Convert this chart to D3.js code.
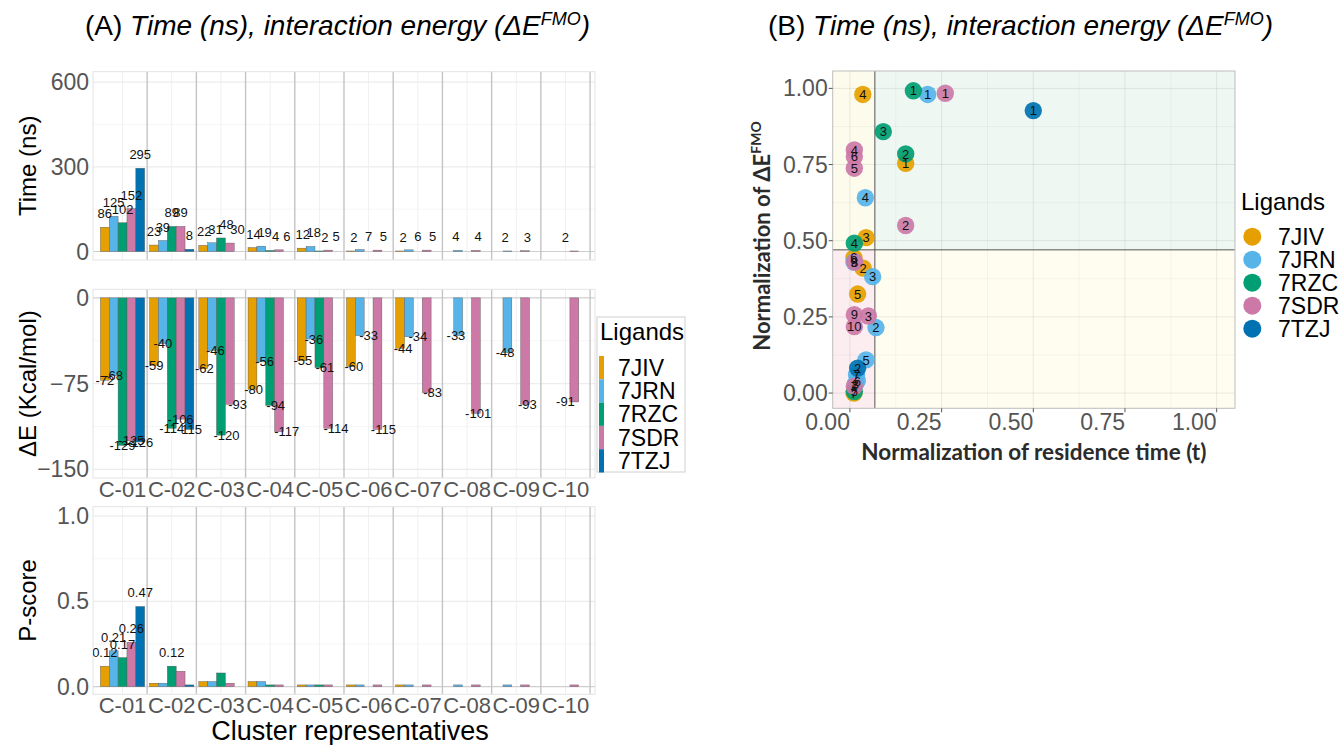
<!DOCTYPE html>
<html>
<head>
<meta charset="utf-8">
<script src="https://cdn.jsdelivr.net/npm/d3@7"></script>
<style>
  body { margin: 0; background: #fff; }
  svg { display: block; }
</style>
</head>
<body>
<script>
// ---- data ----
var clusters = ['C-01', 'C-02', 'C-03', 'C-04', 'C-05', 'C-06', 'C-07', 'C-08', 'C-09', 'C-10'];
var ligands = ['7JIV', '7JRN', '7RZC', '7SDR', '7TZJ'];
var colors = ['#E69F00', '#56B4E9', '#009E73', '#CC79A7', '#0072B2'];

// rows follow ligands, columns follow clusters (null = no bar)
var timeNs = [
  [86, 23, 22, 14, 12, 2, 2, null, null, null],
  [125, 39, 31, 19, 18, 7, 6, 4, 2, null],
  [102, 89, 48, 4, 2, null, null, null, null, null],
  [152, 89, 30, 6, 5, 5, 5, 4, 3, 2],
  [295, 8, null, null, null, null, null, null, null, null]
];
var energy = [
  [-72, -59, -62, -80, -55, -60, -44, null, null, null],
  [-68, -40, -46, -56, -36, -33, -34, -33, -48, null],
  [-129, -114, -120, -94, -61, null, null, null, null, null],
  [-125, -106, -93, -117, -114, -115, -83, -101, -93, -91],
  [-126, -115, null, null, null, null, null, null, null, null]
];
var pscore = [
  [0.12, 0.02, 0.03, 0.03, 0.01, 0.01, 0.01, null, null, null],
  [0.21, 0.02, 0.03, 0.03, 0.01, 0.01, 0.01, 0.01, 0.01, null],
  [0.17, 0.12, 0.08, 0.01, 0.01, null, null, null, null, null],
  [0.26, 0.09, 0.02, 0.01, 0.01, 0.01, 0.01, 0.01, 0.01, 0.01],
  [0.47, 0.01, null, null, null, null, null, null, null, null]
];
var timeTicks = [0, 300, 600];
var energyTicks = [0, -75, -150];
var pTicks = [0, 0.5, 1];

// panel B: normalised residence time (x) and normalised dE (y)
var normTime = [
  [0.152, 0.036, 0.044, 0.035, 0.021, 0.011, 0.011, null, null, null],
  [0.212, 0.071, 0.062, 0.042, 0.044, 0.020, 0.018, 0.015, 0.011, null],
  [0.173, 0.152, 0.091, 0.012, 0.012, null, null, null, null, null],
  [0.260, 0.152, 0.050, 0.012, 0.012, 0.012, 0.012, 0.013, 0.012, 0.012],
  [0.500, 0.021, null, null, null, null, null, null, null, null]
];
var normEnergy = [
  [0.754, 0.410, 0.510, 0.980, 0.325, 0.444, 0.000, null, null, null],
  [0.980, 0.215, 0.382, 0.641, 0.109, 0.040, 0.060, 0.030, 0.430, null],
  [0.992, 0.785, 0.858, 0.492, 0.005, null, null, null, null, null],
  [0.984, 0.550, 0.253, 0.798, 0.738, 0.776, 0.022, 0.430, 0.257, 0.218],
  [0.927, 0.082, null, null, null, null, null, null, null, null]
];
var normTicks = [0, 0.25, 0.5, 0.75, 1];
var timeCut = 0.068;
var energyCut = 0.47;

var W = 1343, H = 745;
var sans = 'Liberation Sans, Arial, Helvetica, sans-serif';
var svg = d3.select('body').append('svg')
  .attr('width', W).attr('height', H)
  .style('font-family', sans);

// ---- titles ----
function title(x, letter) {
  var t = svg.append('text').attr('x', x).attr('y', 35)
    .attr('font-size', 28).attr('fill', '#000');
  t.append('tspan').text('(' + letter + ') ');
  t.append('tspan').attr('font-style', 'italic').text('Time (ns), interaction energy (ΔE');
  t.append('tspan').attr('font-style', 'italic').attr('font-size', 18).attr('dy', -10).text('FMO');
  t.append('tspan').attr('font-style', 'italic').attr('dy', 10).text(')');
}
title(85, 'A');
title(768, 'B');

// ---- panel A ----
var ax0 = 93, ax1 = 595;
var xs = d3.scaleLinear().domain([0.4, 10.6]).range([ax0, ax1]);
var barW = xs(0.18) - xs(0);

var panels = [
  { vals: timeNs, top: 71.7, bottom: 260, domain: [-30, 637], ticks: timeTicks, name: 'Time (ns)', kind: 'up', fmt: d3.format('d') },
  { vals: energy, top: 289.3, bottom: 478, domain: [-157.5, 7.5], ticks: energyTicks, name: 'ΔE (Kcal/mol)', kind: 'down', fmt: d3.format('d') },
  { vals: pscore, top: 506.7, bottom: 694.3, domain: [-0.045, 1.055], ticks: pTicks, name: 'P-score', kind: 'p', fmt: d3.format('.1f') }
];

panels.forEach(function(p, pi) {
  var ys = d3.scaleLinear().domain(p.domain).range([p.bottom, p.top]);
  var g = svg.append('g');
  var clipId = 'clipA' + pi;
  svg.append('clipPath').attr('id', clipId).append('rect')
    .attr('x', ax0).attr('y', p.top).attr('width', ax1 - ax0).attr('height', p.bottom - p.top);

  // grid
  var minor = d3.range(p.ticks.length - 1).map(function(k) { return (p.ticks[k] + p.ticks[k + 1]) / 2; });
  g.selectAll('.hmin').data(minor).enter().append('line')
    .attr('x1', ax0).attr('x2', ax1).attr('y1', ys).attr('y2', ys)
    .attr('stroke', '#f4f4f4').attr('stroke-width', 0.8);
  g.selectAll('.vmaj').data(clusters).enter().append('line')
    .attr('x1', function(d, i) { return xs(i + 1); }).attr('x2', function(d, i) { return xs(i + 1); })
    .attr('y1', p.top).attr('y2', p.bottom)
    .attr('stroke', '#f0f0f0').attr('stroke-width', 1);
  g.selectAll('.hmaj').data(p.ticks).enter().append('line')
    .attr('x1', ax0).attr('x2', ax1).attr('y1', ys).attr('y2', ys)
    .attr('stroke', function(d) { return d === 0 ? '#cfcfcf' : '#ececec'; })
    .attr('stroke-width', 1.1);
  g.selectAll('.sep').data(clusters).enter().append('line')
    .attr('x1', function(d, i) { return xs(i + 1.5); }).attr('x2', function(d, i) { return xs(i + 1.5); })
    .attr('y1', p.top).attr('y2', p.bottom)
    .attr('stroke', '#c4c4c4').attr('stroke-width', 1.4);
  g.append('rect').attr('x', ax0).attr('y', p.top).attr('width', ax1 - ax0).attr('height', p.bottom - p.top)
    .attr('fill', 'none').attr('stroke', '#e3e3e3').attr('stroke-width', 1);

  // bars
  ligands.forEach(function(lig, j) {
    p.vals[j].forEach(function(v, i) {
      if (v == null) return;
      var cx = i + 1 + (j - 2) * 0.18;
      g.append('rect')
        .attr('x', xs(cx) - barW / 2).attr('width', barW)
        .attr('y', Math.min(ys(0), ys(v))).attr('height', Math.abs(ys(v) - ys(0)))
        .attr('fill', colors[j]).attr('stroke', '#555').attr('stroke-width', 0.4);
    });
  });

  // value labels, dodged among the labelled bars of each cluster
  var lab = svg.append('g').attr('clip-path', 'url(#' + clipId + ')')
    .attr('font-size', 13).attr('fill', '#111');
  clusters.forEach(function(c, i) {
    var shown = [];
    ligands.forEach(function(lig, j) {
      var v = p.vals[j][i];
      if (v == null) return;
      if (p.kind === 'p' && v < 0.1) return;
      shown.push(v);
    });
    var n = shown.length;
    shown.forEach(function(v, k) {
      var cx = i + 1 + (k - (n - 1) / 2) * 0.9 / n;
      var t = lab.append('text').attr('x', xs(cx)).attr('text-anchor', 'middle')
        .text(p.kind === 'p' ? d3.format('.2f')(v) : v);
      if (p.kind === 'down') t.attr('y', ys(v)).attr('dy', '0.35em');
      else t.attr('y', ys(v) - 9);
    });
  });

  // y ticks
  svg.append('g').selectAll('text').data(p.ticks).enter().append('text')
    .attr('x', 89).attr('y', ys).attr('dy', '0.35em')
    .attr('text-anchor', 'end').attr('font-size', 23).attr('fill', '#555')
    .text(p.fmt);
  // y title
  svg.append('text')
    .attr('transform', 'translate(36,' + ((p.top + p.bottom) / 2) + ') rotate(-90)')
    .attr('text-anchor', 'middle').attr('font-size', 24).attr('fill', '#000')
    .text(p.name);
  // x ticks for lower two panels
  if (pi > 0) {
    svg.append('g').selectAll('text').data(clusters).enter().append('text')
      .attr('x', function(d, i) { return xs(i + 1); })
      .attr('y', p.bottom + 18.5)
      .attr('text-anchor', 'middle').attr('font-size', 22).attr('fill', '#555')
      .text(function(d) { return d; });
  }
});

svg.append('text').attr('x', (ax0 + ax1) / 2 + 6).attr('y', 740)
  .attr('text-anchor', 'middle').attr('font-size', 27).attr('fill', '#000')
  .text('Cluster representatives');

// legend A
var legA = svg.append('g');
legA.append('rect').attr('x', 597).attr('y', 317).attr('width', 88).attr('height', 155)
  .attr('fill', '#fff').attr('stroke', '#d0d0d0');
legA.append('text').attr('x', 600).attr('y', 340).attr('font-size', 24).attr('fill', '#000').text('Ligands');
ligands.forEach(function(lig, j) {
  legA.append('rect').attr('x', 599).attr('y', 356 + j * 23.3).attr('width', 5).attr('height', 23.3)
    .attr('fill', colors[j]);
  legA.append('text').attr('x', 618).attr('y', 367.7 + j * 23.3).attr('dy', '0.35em')
    .attr('font-size', 23).attr('fill', '#000').text(lig);
});

// ---- panel B ----
var bx0 = 832.7, bx1 = 1235, by0 = 71, by1 = 408.3;
var xb = d3.scaleLinear().domain([-0.047, 1.05]).range([bx0, bx1]);
var yb = d3.scaleLinear().domain([-0.05, 1.057]).range([by1, by0]);
var gb = svg.append('g');

var quads = [
  { x0: -0.047, x1: timeCut, y0: energyCut, y1: 1.057, fill: '#fdfbec' },
  { x0: timeCut, x1: 1.05, y0: energyCut, y1: 1.057, fill: '#eef7f2' },
  { x0: -0.047, x1: timeCut, y0: -0.05, y1: energyCut, fill: '#fbedf0' },
  { x0: timeCut, x1: 1.05, y0: -0.05, y1: energyCut, fill: '#fefdf0' }
];
gb.selectAll('.quad').data(quads).enter().append('rect')
  .attr('x', function(d) { return xb(d.x0); }).attr('y', function(d) { return yb(d.y1); })
  .attr('width', function(d) { return xb(d.x1) - xb(d.x0); })
  .attr('height', function(d) { return yb(d.y0) - yb(d.y1); })
  .attr('fill', function(d) { return d.fill; });

var normMinor = [0.125, 0.375, 0.625, 0.875];
gb.selectAll('.vmin').data(normMinor).enter().append('line')
  .attr('x1', xb).attr('x2', xb).attr('y1', by0).attr('y2', by1)
  .attr('stroke', '#000').attr('stroke-opacity', 0.04);
gb.selectAll('.hmin').data(normMinor).enter().append('line')
  .attr('y1', yb).attr('y2', yb).attr('x1', bx0).attr('x2', bx1)
  .attr('stroke', '#000').attr('stroke-opacity', 0.04);
gb.selectAll('.vmaj').data(normTicks).enter().append('line')
  .attr('x1', xb).attr('x2', xb).attr('y1', by0).attr('y2', by1)
  .attr('stroke', '#000').attr('stroke-opacity', 0.08);
gb.selectAll('.hmaj').data(normTicks).enter().append('line')
  .attr('y1', yb).attr('y2', yb).attr('x1', bx0).attr('x2', bx1)
  .attr('stroke', '#000').attr('stroke-opacity', 0.08);

gb.append('line').attr('x1', xb(timeCut)).attr('x2', xb(timeCut)).attr('y1', by0).attr('y2', by1)
  .attr('stroke', '#555').attr('stroke-width', 1);
gb.append('line').attr('x1', bx0).attr('x2', bx1).attr('y1', yb(energyCut)).attr('y2', yb(energyCut))
  .attr('stroke', '#555').attr('stroke-width', 1);
gb.append('rect').attr('x', bx0).attr('y', by0).attr('width', bx1 - bx0).attr('height', by1 - by0)
  .attr('fill', 'none').attr('stroke', '#bdbdbd').attr('stroke-width', 1);

// points first, then all the number labels on top (as ggplot layers them)
var pts = [];
ligands.forEach(function(lig, j) {
  normTime[j].forEach(function(tv, i) {
    var ev = normEnergy[j][i];
    if (tv == null || ev == null) return;
    pts.push({ j: j, i: i, x: tv, y: ev });
  });
});
gb.selectAll('.pt').data(pts).enter().append('circle')
  .attr('cx', function(d) { return xb(d.x); }).attr('cy', function(d) { return yb(d.y); })
  .attr('r', 8.7)
  .attr('fill', function(d) { return colors[d.j]; }).attr('fill-opacity', 0.92);
gb.selectAll('.ptlab').data(pts).enter().append('text')
  .attr('x', function(d) { return xb(d.x); }).attr('y', function(d) { return yb(d.y); })
  .attr('dy', '0.36em').attr('text-anchor', 'middle').attr('font-size', 13).attr('fill', '#111')
  .text(function(d) { return d.i + 1; });

// axes B
var axB = svg.append('g').attr('fill', '#555').attr('font-size', 23);
normTicks.forEach(function(v) {
  axB.append('line').attr('x1', xb(v)).attr('x2', xb(v)).attr('y1', by1).attr('y2', by1 + 4)
    .attr('stroke', '#555');
  axB.append('text').attr('x', xb(v)).attr('y', by1 + 22).attr('text-anchor', 'end')
    .text(d3.format('.2f')(v));
  axB.append('line').attr('x1', bx0 - 4).attr('x2', bx0).attr('y1', yb(v)).attr('y2', yb(v))
    .attr('stroke', '#555');
  axB.append('text').attr('x', bx0 - 5).attr('y', yb(v)).attr('dy', '0.35em').attr('text-anchor', 'end')
    .text(d3.format('.2f')(v));
});

svg.append('text').attr('x', (bx0 + bx1) / 2).attr('y', 460)
  .attr('text-anchor', 'middle').attr('font-family', 'Lato, sans-serif').attr('font-weight', 'bold')
  .attr('font-size', 22.5).attr('fill', '#2b2b2b')
  .text('Normalization of residence time (t)');
var yt = svg.append('text')
  .attr('transform', 'translate(770,236) rotate(-90)')
  .attr('text-anchor', 'middle').attr('font-family', 'Lato, sans-serif').attr('font-weight', 'bold')
  .attr('font-size', 22).attr('fill', '#2b2b2b');
yt.append('tspan').text('Normalization of ΔE');
yt.append('tspan').attr('font-size', 14).attr('dy', -9).text('FMO');

// legend B
var legB = svg.append('g');
legB.append('text').attr('x', 1241).attr('y', 210).attr('font-size', 24).attr('fill', '#000').text('Ligands');
ligands.forEach(function(lig, j) {
  legB.append('circle').attr('cx', 1252.3).attr('cy', 236.7 + j * 23).attr('r', 9).attr('fill', colors[j]);
  legB.append('text').attr('x', 1278).attr('y', 236.7 + j * 23).attr('dy', '0.35em')
    .attr('font-size', 23).attr('fill', '#000').text(lig);
});
</script>
</body>
</html>
